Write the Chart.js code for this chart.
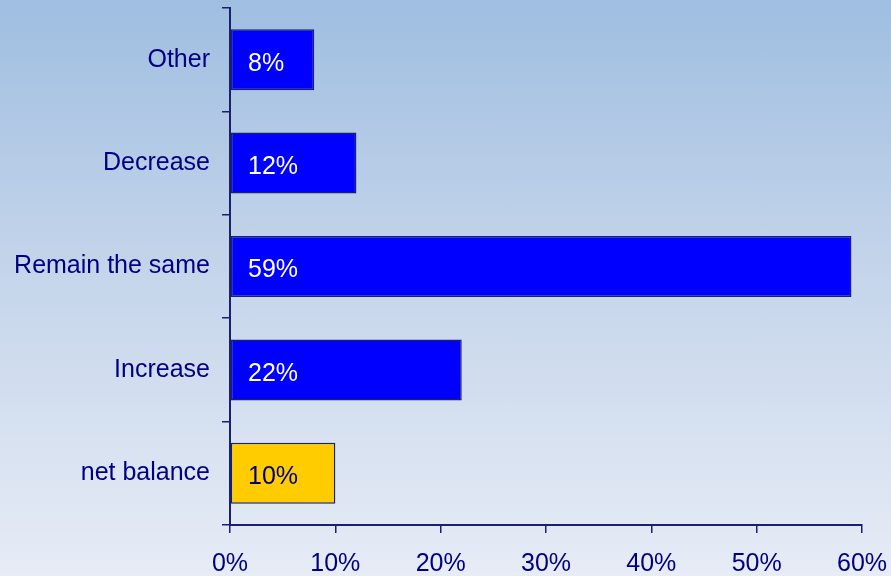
<!DOCTYPE html>
<html>
<head>
<meta charset="utf-8">
<script src="https://cdn.jsdelivr.net/npm/chart.js@4"></script>
<style>
  html, body { margin: 0; padding: 0; }
  body {
    width: 891px; height: 576px; overflow: hidden;
    background: linear-gradient(to bottom, #9fbee1 0%, #c3d4ea 45%, #e7ecf6 100%);
  }
  canvas { display: block; }
</style>
</head>
<body>
<canvas id="canvas" width="891" height="576"></canvas>
<script>
var categories = ['Other', 'Decrease', 'Remain the same', 'Increase', 'net balance'];
var shares = [8, 12, 59, 22, 10];
var barColors = ['#0000ff', '#0000ff', '#0000ff', '#0000ff', '#ffcc00'];
var labelColors = ['#ffffff', '#ffffff', '#ffffff', '#ffffff', '#000080'];

var navy = '#000080';
var axisColor = '#1a1f6e';

Chart.defaults.font.family = 'Arial, "Liberation Sans", sans-serif';
Chart.defaults.font.size = 25;
Chart.defaults.color = navy;

// writes the value inside each bar, a little in from the axis
var barLabels = {
    id: 'barLabels',
    afterDatasetsDraw: function (chart) {
        var ctx = chart.ctx;
        var meta = chart.getDatasetMeta(0);
        var x0 = chart.scales.x.getPixelForValue(0);
        ctx.save();
        ctx.font = '25px Arial, "Liberation Sans", sans-serif';
        ctx.textAlign = 'left';
        ctx.textBaseline = 'middle';
        meta.data.forEach(function (bar, i) {
            ctx.fillStyle = labelColors[i];
            ctx.fillText(shares[i] + '%', x0 + 18, bar.y + 4);
        });
        ctx.restore();
    }
};

window.onload = function () {
    var ctx = document.getElementById('canvas').getContext('2d');
    window.myBar = new Chart(ctx, {
        type: 'bar',
        data: {
            labels: categories,
            datasets: [{
                data: shares,
                backgroundColor: barColors,
                borderColor: axisColor,
                borderWidth: 1.5,
                borderSkipped: false,
                categoryPercentage: 1,
                barPercentage: 0.59
            }]
        },
        options: {
            indexAxis: 'y',
            responsive: false,
            animation: false,
            layout: {
                autoPadding: false,
                padding: { top: 8, right: 29, left: 0, bottom: 0 }
            },
            plugins: {
                legend: { display: false },
                tooltip: { enabled: false }
            },
            scales: {
                x: {
                    min: 0,
                    max: 60,
                    ticks: {
                        stepSize: 10,
                        padding: 16,
                        callback: function (v) { return v + '%'; }
                    },
                    grid: {
                        drawOnChartArea: false,
                        tickLength: 8,
                        color: axisColor,
                        lineWidth: 1.5
                    },
                    border: { color: axisColor, width: 2 },
                    afterFit: function (s) {
                        s.height = 51;
                        s.paddingLeft = 0;
                        s.paddingRight = 0;
                    }
                },
                y: {
                    ticks: { padding: 12 },
                    grid: {
                        offset: true,
                        drawOnChartArea: false,
                        tickLength: 8,
                        color: axisColor,
                        lineWidth: 1.5
                    },
                    border: { color: axisColor, width: 2 },
                    afterFit: function (s) {
                        s.width = 230;
                        s.paddingTop = 0;
                        s.paddingBottom = 0;
                    }
                }
            }
        },
        plugins: [barLabels]
    });
};
</script>
</body>
</html>
